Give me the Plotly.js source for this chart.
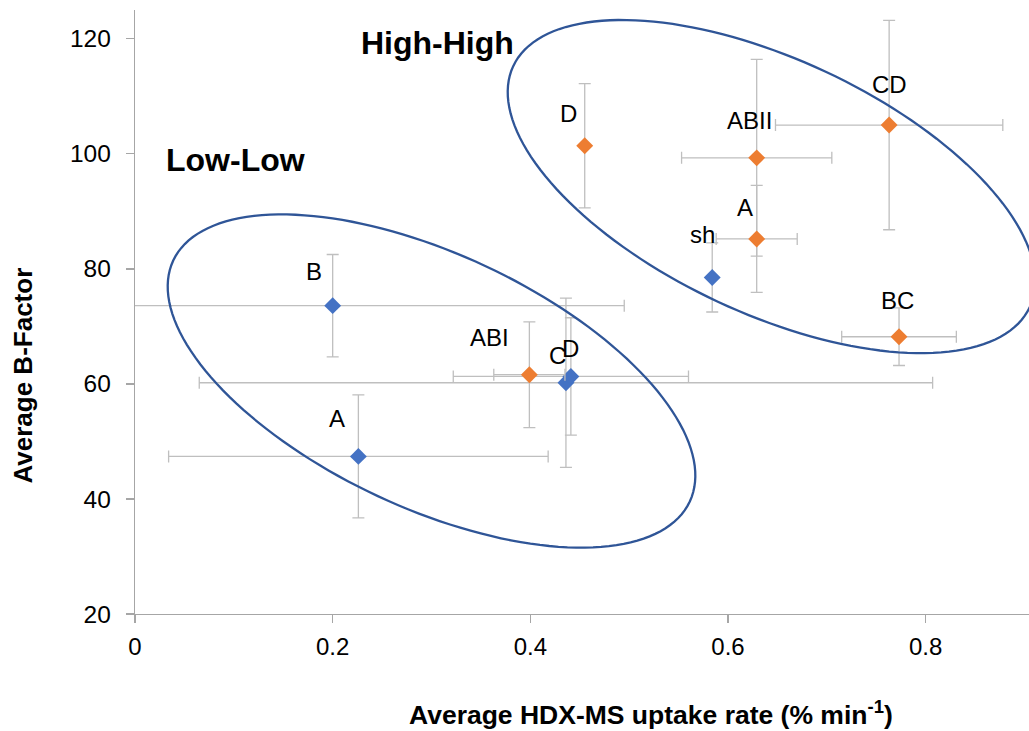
<!DOCTYPE html>
<html>
<head>
<meta charset="utf-8">
<script src="https://cdn.plot.ly/plotly-3.0.1.min.js"></script>
<style>
  html, body { margin: 0; padding: 0; background: #ffffff; }
  #chart { width: 1029px; height: 731px; }
</style>
</head>
<body>
<div id="chart"></div>
<script>
// Low-Low group (blue diamonds)
const lowLabels = ['B', 'A', 'C', 'D', 'sh'];
const lowUptake = [0.200, 0.226, 0.436, 0.441, 0.584];
const lowUptakeErr = [0.295, 0.192, 0.371, 0.119, 0];
const lowBFactor = [73.6, 47.4, 60.2, 61.3, 78.5];
const lowBFactorErr = [8.9, 10.7, 14.7, 10.2, 6.0];

// High-High group (orange diamonds)
const highLabels = ['ABI', 'D', 'ABII', 'A', 'CD', 'BC'];
const highUptake = [0.399, 0.455, 0.629, 0.629, 0.763, 0.773];
const highUptakeErr = [0.036, 0, 0.076, 0.041, 0.115, 0.058];
const highBFactor = [61.6, 101.4, 99.3, 85.2, 105.0, 68.2];
const highBFactorErr = [9.2, 10.8, 17.1, 9.3, 18.2, 5.0];

// Group outlines: centre in data units
const groupNames = ['Low-Low', 'High-High'];
const groupCenterUptake = [0.300, 0.644];
const groupCenterBFactor = [60.5, 94.3];

// Label nudges (px) relative to each point
const lowLabelShift = [[-19, 34], [-21, 38], [-8, 27], [0, 28], [-10, 43]];
const highLabelShift = [[-40, 37], [-16, 32], [-7, 37], [-12, 31], [0, 41], [-2, 36]];

const W = 1029, H = 731;
const margin = { l: 135, r: 0, t: 10, b: 117 };
const xRange = [0, 0.9045];
const yRange = [20, 125];
const pxPerX = (W - margin.l - margin.r) / (xRange[1] - xRange[0]);
const pxPerY = (H - margin.t - margin.b) / (yRange[1] - yRange[0]);

const FONT = '"Liberation Sans", Arial, sans-serif';
const ERR_COLOR = '#BFBFBF';
const AXIS_COLOR = '#A6A6A6';
const OUTLINE_COLOR = '#2F5597';

// Rotated ellipse traced in screen space, converted back to data units
function ellipsePath(cx, cy, a, b, deg) {
  const th = deg * Math.PI / 180;
  const n = 160;
  let d = '';
  for (let i = 0; i <= n; i++) {
    const t = 2 * Math.PI * i / n;
    const dx = a * Math.cos(th) * Math.cos(t) - b * Math.sin(th) * Math.sin(t);
    const dy = a * Math.sin(th) * Math.cos(t) + b * Math.cos(th) * Math.sin(t);
    const x = cx + dx / pxPerX;
    const y = cy - dy / pxPerY;
    d += (i ? 'L' : 'M') + x.toFixed(5) + ',' + y.toFixed(4);
  }
  return d + 'Z';
}

function seriesTrace(name, xs, xe, ys, ye, color) {
  return {
    type: 'scatter',
    mode: 'markers',
    name: name,
    x: xs,
    y: ys,
    marker: { symbol: 'diamond', size: 13, color: color, line: { width: 0 } },
    error_x: { type: 'data', array: xe, visible: true, color: ERR_COLOR, thickness: 1.3, width: 6 },
    error_y: { type: 'data', array: ye, visible: true, color: ERR_COLOR, thickness: 1.3, width: 6 },
    hoverinfo: 'x+y',
    showlegend: false
  };
}

const traces = [
  seriesTrace('Low-Low', lowUptake, lowUptakeErr, lowBFactor, lowBFactorErr, '#4472C4'),
  seriesTrace('High-High', highUptake, highUptakeErr, highBFactor, highBFactorErr, '#ED7D31')
];

const annotations = [];
function addPointLabels(labels, xs, ys, shifts) {
  labels.forEach((txt, i) => {
    annotations.push({
      x: xs[i], y: ys[i], xref: 'x', yref: 'y',
      text: txt, showarrow: false,
      xshift: shifts[i][0], yshift: shifts[i][1],
      font: { family: FONT, size: 24, color: '#000000' }
    });
  });
}
addPointLabels(lowLabels, lowUptake, lowBFactor, lowLabelShift);
addPointLabels(highLabels, highUptake, highBFactor, highLabelShift);

// Group captions
annotations.push({
  x: 0.1017, y: 99.0, xref: 'x', yref: 'y', text: '<b>Low-Low</b>', showarrow: false,
  font: { family: FONT, size: 32, color: '#000000' }
});
annotations.push({
  x: 0.306, y: 119.2, xref: 'x', yref: 'y', text: '<b>High-High</b>', showarrow: false,
  font: { family: FONT, size: 32, color: '#000000' }
});

// Axis titles
annotations.push({
  x: (651 - margin.l) / (W - margin.l - margin.r), y: -(713 - (H - margin.b)) / (H - margin.t - margin.b),
  xref: 'paper', yref: 'paper', xanchor: 'center', yanchor: 'middle', showarrow: false,
  text: '<b>Average HDX-MS uptake rate (% min<sup>-1</sup>)</b>',
  font: { family: FONT, size: 26.5, color: '#000000' }
});
annotations.push({
  x: (22 - margin.l) / (W - margin.l - margin.r), y: ((H - margin.b) - 375.5) / (H - margin.t - margin.b),
  xref: 'paper', yref: 'paper', xanchor: 'center', yanchor: 'middle', showarrow: false, textangle: -90,
  text: '<b>Average B-Factor</b>',
  font: { family: FONT, size: 26, color: '#000000' }
});

const shapes = groupNames.map((g, i) => ({
  type: 'path',
  xref: 'x', yref: 'y',
  path: ellipsePath(groupCenterUptake[i], groupCenterBFactor[i], 285, 127, 25),
  line: { color: OUTLINE_COLOR, width: 2.3 },
  fillcolor: 'rgba(0,0,0,0)',
  layer: 'above'
}));

const layout = {
  width: W, height: H,
  margin: margin,
  paper_bgcolor: '#ffffff',
  plot_bgcolor: '#ffffff',
  showlegend: false,
  font: { family: FONT, size: 24, color: '#000000' },
  xaxis: {
    range: xRange,
    tickvals: [0, 0.2, 0.4, 0.6, 0.8],
    ticktext: ['0', '0.2', '0.4', '0.6', '0.8'],
    showgrid: false, zeroline: false,
    showline: true, linecolor: AXIS_COLOR, linewidth: 1.3,
    ticks: 'outside', ticklen: 8, tickcolor: AXIS_COLOR, tickwidth: 1.3,
    ticklabelstandoff: 3,
    tickfont: { family: FONT, size: 24, color: '#000000' }
  },
  yaxis: {
    range: yRange,
    tickvals: [20, 40, 60, 80, 100, 120],
    showgrid: false, zeroline: false,
    showline: true, linecolor: AXIS_COLOR, linewidth: 1.3,
    ticks: 'outside', ticklen: 8, tickcolor: AXIS_COLOR, tickwidth: 1.3,
    ticklabelstandoff: 10,
    tickfont: { family: FONT, size: 24.5, color: '#000000' }
  },
  annotations: annotations,
  shapes: shapes
};

Plotly.newPlot('chart', traces, layout, { displayModeBar: false, staticPlot: true });
</script>
</body>
</html>
